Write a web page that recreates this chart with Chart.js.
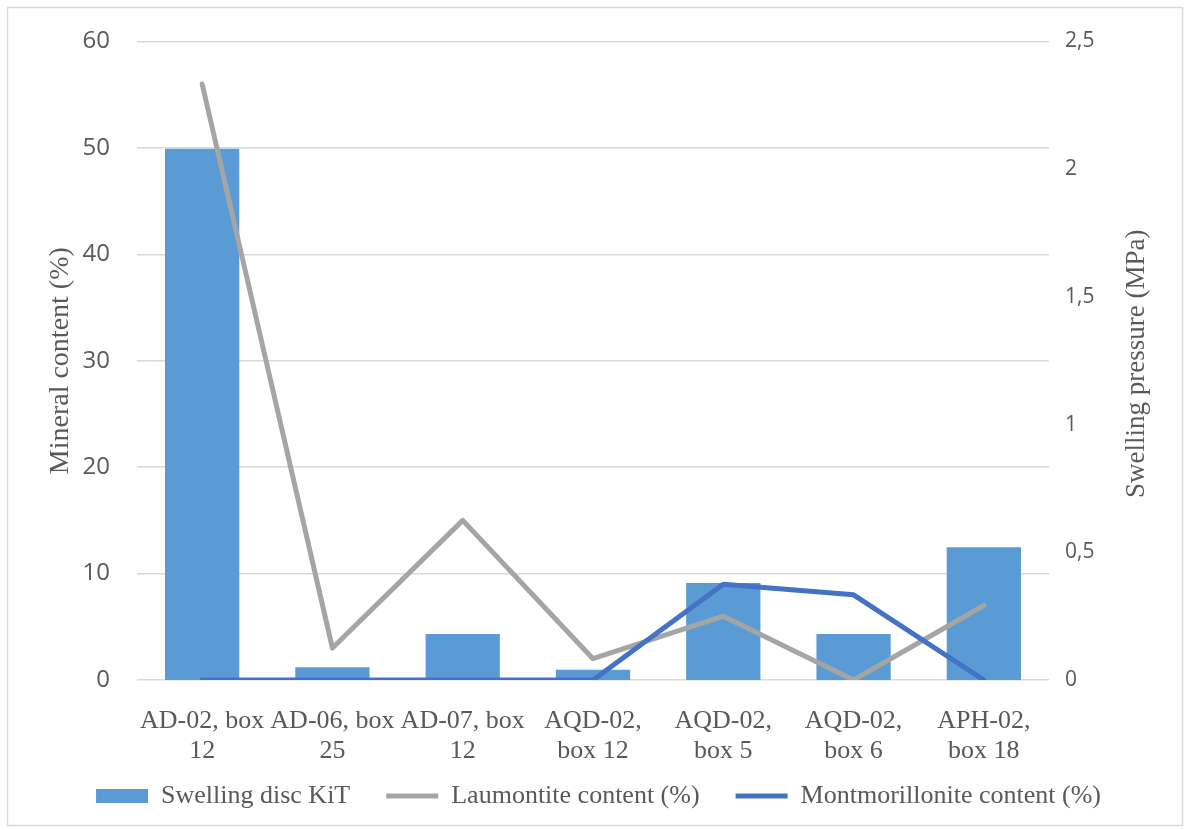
<!DOCTYPE html>
<html>
<head>
<meta charset="utf-8">
<script src="https://cdn.jsdelivr.net/npm/chart.js@4.4.1/dist/chart.umd.min.js"></script>
<style>
  html, body { margin: 0; padding: 0; background: #fff; }
  canvas { display: block; }
</style>
</head>
<body>
<canvas id="myChart" width="1185" height="830"></canvas>
<script>
const categories = [
  ['AD-02, box', '12'],
  ['AD-06, box', '25'],
  ['AD-07, box', '12'],
  ['AQD-02,', 'box 12'],
  ['AQD-02,', 'box 5'],
  ['AQD-02,', 'box 6'],
  ['APH-02,', 'box 18'],
];
// swelling pressure, MPa (right axis)
const swellingKiT = [2.08, 0.05, 0.18, 0.04, 0.38, 0.18, 0.52];
// mineral content, % (left axis)
const laumontite = [56, 3, 15, 2, 6, 0, 7];
const montmorillonite = [0, 0, 0, 0, 9, 8, 0];

const leftTicks = [0, 10, 20, 30, 40, 50, 60];
const rightTicks = [0, 0.5, 1, 1.5, 2, 2.5];
const leftTitle = 'Mineral content (%)';
const rightTitle = 'Swelling pressure (MPa)';

const serif = "'Liberation Serif', 'Times New Roman', serif";
const sans = "'Open Sans', 'DejaVu Sans', sans-serif";
const textGrey = '#595959';

// white background and the thin frame around the whole chart
const frame = {
  id: 'frame',
  beforeDraw(chart) {
    const c = chart.ctx;
    c.save();
    c.fillStyle = '#fff';
    c.fillRect(0, 0, chart.width, chart.height);
    c.strokeStyle = '#d9d9d9';
    c.lineWidth = 1.5;
    c.strokeRect(7.5, 7.5, 1175, 818);
    c.restore();
  }
};

// right axis title reads bottom-to-top like the left one
const rightAxisTitle = {
  id: 'rightAxisTitle',
  afterDraw(chart) {
    const c = chart.ctx;
    const area = chart.chartArea;
    c.save();
    c.translate(1137, (area.top + area.bottom) / 2 + 3);
    c.rotate(-Math.PI / 2);
    c.textAlign = 'center';
    c.textBaseline = 'middle';
    c.fillStyle = textGrey;
    c.font = '27px ' + serif;
    c.fillText(rightTitle, 0, 0);
    c.restore();
  }
};

// put the legend row where the original has it
const legendRow = {
  id: 'legendRow',
  afterLayout(chart) {
    const lg = chart.legend;
    if (!lg) return;
    lg.top = 796 - 13 - 36;
    lg.bottom = lg.top + lg.height;
  }
};

let ctx = document.getElementById('myChart').getContext('2d');
let chart = new Chart(ctx, {
  type: 'bar',
  data: {
    labels: categories,
    datasets: [
      {
        type: 'bar',
        label: 'Swelling disc KiT',
        data: swellingKiT,
        yAxisID: 'y2',
        backgroundColor: '#5b9bd5',
        borderWidth: 0,
        categoryPercentage: 1,
        barPercentage: 0.57,
        order: 3,
      },
      {
        type: 'line',
        label: 'Laumontite content (%)',
        data: laumontite,
        yAxisID: 'y',
        borderColor: '#a5a5a5',
        backgroundColor: '#a5a5a5',
        borderWidth: 5,
        borderJoinStyle: 'round',
        borderCapStyle: 'round',
        pointRadius: 0,
        tension: 0,
        fill: false,
        order: 2,
      },
      {
        type: 'line',
        label: 'Montmorillonite content (%)',
        data: montmorillonite,
        yAxisID: 'y',
        borderColor: '#4472c4',
        backgroundColor: '#4472c4',
        borderWidth: 5,
        borderJoinStyle: 'round',
        borderCapStyle: 'round',
        pointRadius: 0,
        tension: 0,
        fill: false,
        order: 1,
      },
    ]
  },
  options: {
    responsive: false,
    animation: false,
    devicePixelRatio: 1,
    layout: {
      padding: { left: 45, right: 33, top: 38, bottom: 0 }
    },
    scales: {
      x: {
        grid: { display: false },
        border: { display: false },
        ticks: {
          autoSkip: false,
          maxRotation: 0,
          minRotation: 0,
          padding: 18,
          color: textGrey,
          font: { family: serif, size: 26, lineHeight: 1.15 },
        },
        afterFit: (scale) => {
          const lgH = scale.chart.legend ? scale.chart.legend.height : 0;
          scale.height = 830 - 680 - lgH;
        },
      },
      y: {
        position: 'left',
        min: 0,
        max: 60,
        afterBuildTicks: (scale) => {
          scale.ticks = leftTicks.map(v => ({ value: v }));
        },
        grid: { color: '#d9d9d9', lineWidth: 1.5, drawTicks: false },
        border: { display: false },
        ticks: {
          padding: 27,
          color: textGrey,
          font: { family: sans, size: 24 },
        },
        title: {
          display: true,
          text: leftTitle,
          color: textGrey,
          padding: 0,
          font: { family: serif, size: 28, lineHeight: 1.1 },
        },
        afterFit: (scale) => { scale.width = 137 - 45; },
      },
      y2: {
        position: 'right',
        min: 0,
        max: 2.5,
        afterBuildTicks: (scale) => {
          scale.ticks = rightTicks.map(v => ({ value: v }));
        },
        grid: { display: false, drawTicks: false },
        border: { display: false },
        ticks: {
          padding: 16,
          color: textGrey,
          font: { family: sans, size: 21 },
          callback: (v) => String(v).replace('.', ','),
        },
        afterFit: (scale) => { scale.width = 1152 - 1049; },
      },
    },
    plugins: {
      tooltip: { enabled: false },
      legend: {
        position: 'bottom',
        labels: {
          usePointStyle: true,
          pointStyleWidth: 52,
          boxWidth: 52,
          boxHeight: 14,
          padding: 36,
          color: textGrey,
          font: { family: serif, size: 26 },
          generateLabels: (chart) => {
            const items = Chart.defaults.plugins.legend.labels.generateLabels(chart);
            items.forEach(it => { it.pointStyle = it.datasetIndex === 0 ? 'rect' : 'line'; });
            return items.sort((a, b) => a.datasetIndex - b.datasetIndex);
          },
        },
      },
    },
  },
  plugins: [frame, rightAxisTitle, legendRow],
});
</script>
</body>
</html>
